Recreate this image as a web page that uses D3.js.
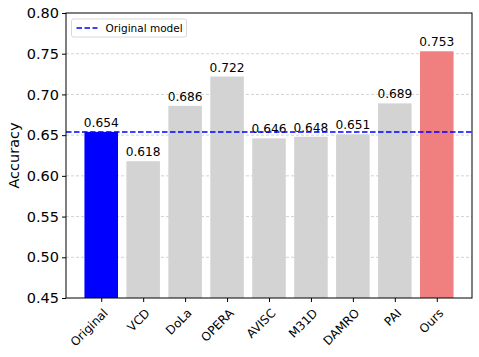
<!DOCTYPE html>
<html>
<head>
<meta charset="utf-8">
<script src="https://cdn.jsdelivr.net/npm/d3@7"></script>
<style>
  body { margin: 0; background: #fff; }
  text { font-family: "DejaVu Sans", sans-serif; }
</style>
</head>
<body>
<div id="chart"></div>
<script>
// chart data
const methods = ["Original", "VCD", "DoLa", "OPERA", "AVISC", "M31D", "DAMRO", "PAI", "Ours"];
const accuracy = [0.654, 0.618, 0.686, 0.722, 0.646, 0.648, 0.651, 0.689, 0.753];
const yTicks = [0.45, 0.50, 0.55, 0.60, 0.65, 0.70, 0.75, 0.80];
const baseline = 0.654;

const width = 479, height = 357;
const margin = { top: 13, right: 7, bottom: 59, left: 66 };

const svg = d3.select("#chart").append("svg")
    .attr("width", width)
    .attr("height", height);

// scales: matplotlib-like xlim (-0.84 .. 8.84)
const x = d3.scaleLinear()
    .domain([-0.84, methods.length - 1 + 0.84])
    .range([margin.left, width - margin.right]);
const y = d3.scaleLinear()
    .domain([0.45, 0.80])
    .range([height - margin.bottom, margin.top]);

const barColor = (d, i) => i === 0 ? "#0000ff" : (i === methods.length - 1 ? "#f08080" : "#d3d3d3");

// grid lines
svg.append("g")
    .selectAll("line")
    .data(yTicks.slice(1, -1))
    .join("line")
    .attr("x1", margin.left)
    .attr("x2", width - margin.right)
    .attr("y1", d => y(d))
    .attr("y2", d => y(d))
    .attr("stroke", "#b0b0b0")
    .attr("stroke-opacity", 0.7)
    .attr("stroke-width", 0.8)
    .attr("stroke-dasharray", "3,2");

// bars
const bw = x(0.4) - x(-0.4);
svg.append("g")
    .selectAll("rect")
    .data(accuracy)
    .join("rect")
    .attr("x", (d, i) => x(i) - bw / 2)
    .attr("width", bw)
    .attr("y", d => y(d))
    .attr("height", d => y(0.45) - y(d))
    .attr("fill", barColor);

// value labels
svg.append("g")
    .selectAll("text")
    .data(accuracy)
    .join("text")
    .attr("x", (d, i) => x(i))
    .attr("y", d => y(d) - 5)
    .attr("text-anchor", "middle")
    .attr("font-size", "12.2px")
    .attr("fill", "#000")
    .text(d => d.toFixed(3));

// baseline
svg.append("line")
    .attr("x1", margin.left)
    .attr("x2", width - margin.right)
    .attr("y1", y(baseline))
    .attr("y2", y(baseline))
    .attr("stroke", "#0000ff")
    .attr("stroke-width", 1.5)
    .attr("stroke-dasharray", "5.5,2.5");

// axes
const yAxis = svg.append("g")
    .attr("transform", `translate(${margin.left},0)`)
    .call(d3.axisLeft(y).tickValues(yTicks).tickFormat(d3.format(".2f")).tickSize(4).tickPadding(3));
yAxis.selectAll("text").attr("font-size", "14.5px").attr("fill", "#000").attr("font-family", "DejaVu Sans");
yAxis.select(".domain").remove();

const xAxis = svg.append("g")
    .attr("transform", `translate(0,${height - margin.bottom})`)
    .call(d3.axisBottom(x).tickValues(d3.range(methods.length)).tickFormat(i => methods[i]).tickSize(4));
xAxis.select(".domain").remove();
xAxis.selectAll("text")
    .attr("font-size", "12px")
    .attr("fill", "#000")
    .attr("font-family", "DejaVu Sans")
    .attr("text-anchor", "end")
    .attr("dy", "0.35em")
    .attr("transform", "translate(-1,8) rotate(-45)");

// frame
svg.append("rect")
    .attr("x", margin.left)
    .attr("y", margin.top)
    .attr("width", width - margin.left - margin.right)
    .attr("height", height - margin.top - margin.bottom)
    .attr("fill", "none")
    .attr("stroke", "#000")
    .attr("stroke-width", 1);

// y label
svg.append("text")
    .attr("transform", `translate(19,${(margin.top + height - margin.bottom) / 2}) rotate(-90)`)
    .attr("text-anchor", "middle")
    .attr("font-size", "14.5px")
    .text("Accuracy");

// legend
const lg = svg.append("g").attr("transform", `translate(${margin.left + 5.5},${margin.top + 6})`);
lg.append("rect")
    .attr("width", 115)
    .attr("height", 18)
    .attr("rx", 2)
    .attr("fill", "#fff")
    .attr("fill-opacity", 0.8)
    .attr("stroke", "#d9d9d9");
lg.append("line")
    .attr("x1", 5).attr("x2", 26)
    .attr("y1", 9).attr("y2", 9)
    .attr("stroke", "#0000ff")
    .attr("stroke-width", 1.5)
    .attr("stroke-dasharray", "5.5,2.5");
lg.append("text")
    .attr("x", 34)
    .attr("y", 9)
    .attr("dy", "0.35em")
    .attr("font-size", "10.5px")
    .text("Original model");
</script>
</body>
</html>
